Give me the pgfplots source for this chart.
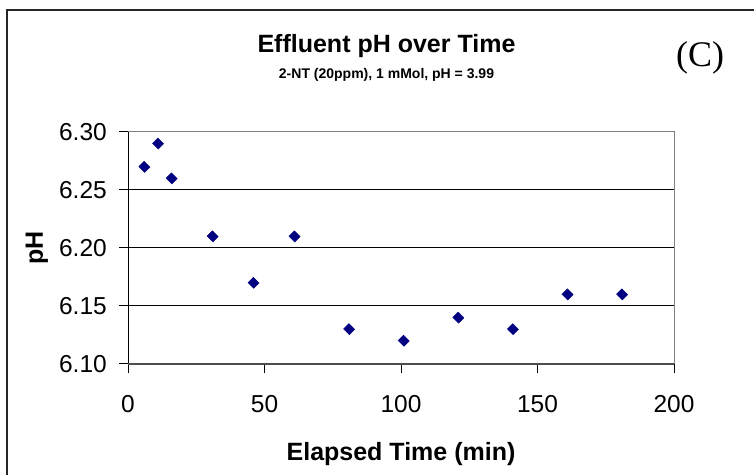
\documentclass[border=0pt]{standalone}
\usepackage{pgfplots}
\pgfplotsset{compat=1.18}
\usepackage{fontspec}
\setmainfont{Liberation Sans}
\newfontfamily\seriffont{Liberation Serif}
\definecolor{navy}{RGB}{0,0,128}
\definecolor{border}{RGB}{128,128,128}
\begin{document}
\begin{tikzpicture}[x=1bp,y=1bp]
\useasboundingbox (0,0) rectangle (754,475);
\draw[line width=1.5bp, black!85] (7,-2) -- (7,465) -- (756,465);
\node[anchor=base, inner sep=0, font=\fontsize{25bp}{30bp}\selectfont\bfseries] at (386.5,422) {Effluent pH over Time};
\node[anchor=base, inner sep=0, font=\fontsize{14bp}{17bp}\selectfont\bfseries] at (386.5,396) {2-NT (20ppm), 1 mMol, pH = 3.99};
\node[anchor=base, inner sep=0, font=\fontsize{36bp}{40bp}\selectfont\seriffont] at (700,408) {(C)};
\begin{axis}[
  at={(128bp,111bp)}, anchor=south west,
  width=546bp, height=232bp, scale only axis,
  xmin=0, xmax=200, ymin=6.10, ymax=6.30,
  xtick={0,50,100,150,200},
  ytick={6.10,6.15,6.20,6.25,6.30},
  tick pos=left, tick align=outside, major tick length=9bp,
  tick style={black, line width=1bp},
  axis line style={border, line width=1bp},
  ymajorgrids, major grid style={black, line width=1bp},
  /pgf/number format/assume math mode=true,
  ticklabel style={font=\fontsize{24.5bp}{29bp}\selectfont},
  yticklabel style={/pgf/number format/fixed, /pgf/number format/fixed zerofill, /pgf/number format/precision=2},
  yticklabel style={anchor=east, inner sep=0pt, xshift=-12bp},
  xticklabel style={anchor=north, inner sep=0pt, yshift=-22bp},
  xlabel={Elapsed Time (min)},
  xlabel style={at={(axis description cs:0.5,-0.414)}, anchor=base, inner sep=0pt, font=\fontsize{25bp}{30bp}\selectfont\bfseries},
  ylabel={pH},
  ylabel style={at={(axis description cs:-0.1667,0.5)}, anchor=center, inner sep=0pt, font=\fontsize{25bp}{30bp}\selectfont\bfseries},
  clip=false,
]
\addplot[only marks, mark=square*, mark size=3.8bp, mark options={rotate=45, yscale=1.08, fill=navy, draw=navy}] coordinates {
(6,6.27) (11,6.29) (16,6.26) (31,6.21) (46,6.17) (61,6.21)
(81,6.13) (101,6.12) (121,6.14) (141,6.13) (161,6.16) (181,6.16)
};
\draw[black, line width=1bp] (axis cs:0,6.10) -- (axis cs:0,6.30);
\draw[border!60!black, line width=1.2bp] (axis cs:0,6.10) -- (axis cs:200,6.10);
\end{axis}
\end{tikzpicture}
\end{document}
